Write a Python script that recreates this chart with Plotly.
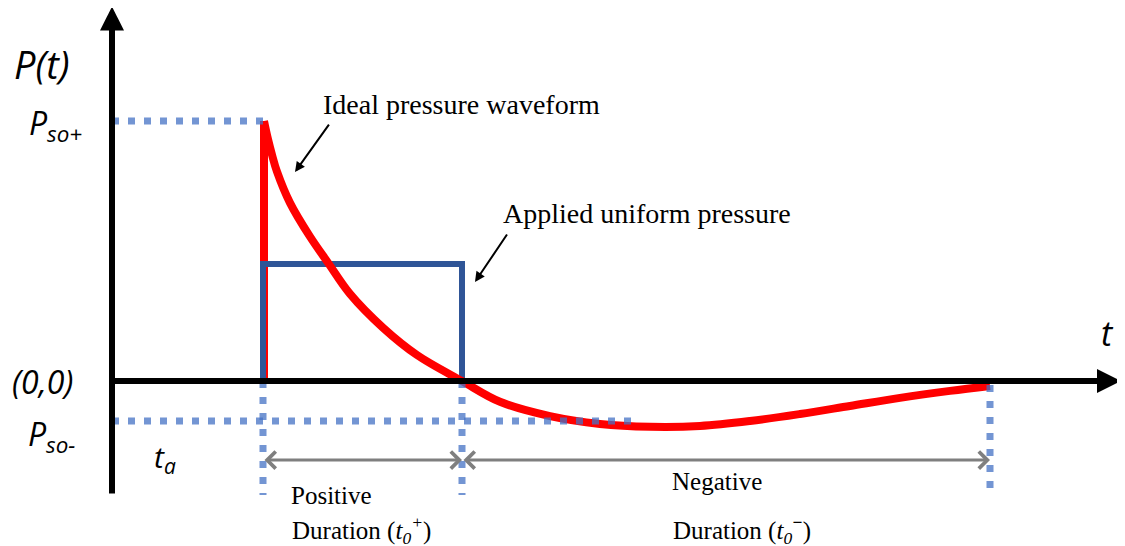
import plotly.graph_objects as go

# tempo (unità arbitrarie) e pressione (P_so+ = 100)
t_arrivo = 15.1
t_fine_pos = 35.0
t_fine_neg = 87.8
p_so_piu = 100
p_so_meno = -15.4
p_uniforme = 45

# salita verticale dell'onda ideale
t_salita = [15.2, 15.2]
p_salita = [0, 100]

# onda di pressione ideale (decadimento + fase negativa)
t_ideale = [15.2, 15.6, 16.0, 16.5, 17.8, 19.8, 21.6, 23.8, 27.1, 30.5, 35.0,
            38.8, 43.8, 48.8, 53.8, 58.8, 63.8, 68.8, 73.8, 78.8, 83.8, 87.8]
p_ideale = [100, 93, 87, 80.5, 68.5, 55.5, 45.5, 33.5, 20.5, 10, 0,
            -8.0, -13.5, -16.5, -17.6, -17.3, -15.4, -12.7, -9.6, -6.5, -3.8, -1.9]

# pressione uniforme applicata
t_applicata = [15.1, 15.1, 35.0, 35.0]
p_applicata = [0, 45, 45, 0]

ROSSO = "#FF0000"
BLU = "#2F5597"
PUNTI = "rgba(68,114,196,0.75)"
GRIGIO = "#7F7F7F"
SANS = "Open Sans"
SERIF = "Liberation Serif"

fig = go.Figure()

# linee tratteggiate di riferimento
def tratteggio(x, y):
    fig.add_trace(go.Scatter(x=x, y=y, mode="lines",
                             line=dict(color=PUNTI, width=7, dash="7px,9px"),
                             hoverinfo="skip"))

fig.add_trace(go.Scatter(x=t_salita, y=p_salita, mode="lines",
                         line=dict(color=ROSSO, width=8), hoverinfo="skip"))
fig.add_trace(go.Scatter(x=t_applicata, y=p_applicata, mode="lines",
                         line=dict(color=BLU, width=6), hoverinfo="skip"))
fig.add_trace(go.Scatter(x=t_ideale, y=p_ideale, mode="lines",
                         line=dict(color=ROSSO, width=8, shape="spline", smoothing=1.0),
                         hoverinfo="skip"))

tratteggio([0, t_arrivo], [p_so_piu, p_so_piu])
tratteggio([0, 52.8], [p_so_meno, p_so_meno])
tratteggio([t_arrivo, t_arrivo], [0, -43.8])
tratteggio([t_fine_pos, t_fine_pos], [0, -43.8])
tratteggio([t_fine_neg, t_fine_neg], [-1.5, -43.8])

annotazioni = []

# assi con frecce
annotazioni.append(dict(x=0, y=144.0, ax=0, ay=-43.8, axref="x", ayref="y",
                        text="", showarrow=True, arrowhead=2, arrowwidth=6,
                        arrowsize=0.8, arrowcolor="black", standoff=0))
annotazioni.append(dict(x=100.9, y=0, ax=-0.3, ay=0, axref="x", ayref="y",
                        text="", showarrow=True, arrowhead=2, arrowwidth=6,
                        arrowsize=0.8, arrowcolor="black", standoff=0))

# frecce delle etichette
annotazioni.append(dict(x=18.3, y=80.4, ax=21.8, ay=99.2, axref="x", ayref="y",
                        text="", showarrow=True, arrowhead=2, arrowwidth=2,
                        arrowsize=1, arrowcolor="black"))
annotazioni.append(dict(x=36.3, y=38.1, ax=39.6, ay=56.9, axref="x", ayref="y",
                        text="", showarrow=True, arrowhead=2, arrowwidth=2,
                        arrowsize=1, arrowcolor="black"))

# frecce delle durate
for a, b in [(t_arrivo, t_fine_pos), (t_fine_pos, t_fine_neg)]:
    annotazioni.append(dict(x=b, y=-30.4, ax=a, ay=-30.4, axref="x", ayref="y",
                            text="", showarrow=True, arrowhead=4, arrowside="end+start",
                            arrowwidth=3, arrowsize=1.1, arrowcolor=GRIGIO,
                            standoff=0, startstandoff=0))

def testo(x, y, t, fam, size, corsivo=False):
    annotazioni.append(dict(x=x, y=y, text=t, showarrow=False,
                            font=dict(family=fam, size=size, color="black",
                                      style="italic" if corsivo else "normal")))

testo(-7.0, 122.0, "P(t)", SANS, 38, True)
testo(-5.7, 98.5, "P<sub>so+</sub>", SANS, 32, True)
testo(-7.0, 0, "(0,0)", SANS, 32, True)
testo(-6.1, -21.0, "P<sub>so-</sub>", SANS, 32, True)
testo(5.3, -29.5, "t<sub>a</sub>", SANS, 30, True)
testo(99.5, 18.5, "t", SANS, 34, True)

testo(34.9, 106.5, "Ideal pressure waveform", SERIF, 28)
testo(53.5, 64.6, "Applied uniform pressure", SERIF, 28)
testo(21.9, -44.2, "Positive", SERIF, 25)
testo(24.9, -57.3, "Duration (<i>t<sub>0</sub><sup>+</sup></i>)", SERIF, 25)
testo(60.5, -38.8, "Negative", SERIF, 25)
testo(63.0, -57.3, "Duration (<i>t<sub>0</sub><sup><b>−</b></sup></i>)", SERIF, 25)

# la pagina ha un margine di 8 px: gli intervalli partono da 8 px nel riferimento
fig.update_layout(
    width=1125, height=546,
    margin=dict(l=0, r=0, t=0, b=0),
    plot_bgcolor="white", paper_bgcolor="white",
    showlegend=False,
    xaxis=dict(range=[-10.4, 102.1], visible=False),
    yaxis=dict(range=[-66.54, 143.46], visible=False),
    annotations=annotazioni,
)

fig.write_html("out.html")
